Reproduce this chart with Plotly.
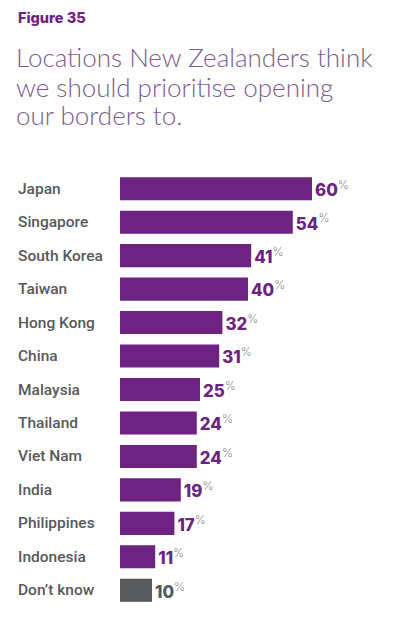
import plotly.graph_objects as go

categories = ["Japan", "Singapore", "South Korea", "Taiwan", "Hong Kong", "China",
              "Malaysia", "Thailand", "Viet Nam", "India", "Philippines", "Indonesia",
              "Don\u2019t know"]
values = [60, 54, 41, 40, 32, 31, 25, 24, 24, 19, 17, 11, 10]

PURPLE = "#6E2382"
GREY = "#58595B"
TITLE_C = "#7D5A8E"

colors = [GREY if c.startswith("Don") else PURPLE for c in categories]
texts = [f"{v}<sup><span style='color:#8a8a8a;font-weight:300'>%</span></sup>" for v in values]

W, H = 396, 632
L, R, T, B = 120, 0, 172, 25
px_per_unit = 3.2
xmax = (W - L - R) / px_per_unit

fig = go.Figure(go.Bar(
    x=values, y=categories, orientation="h",
    marker=dict(color=colors, line=dict(width=0)),
    width=0.69,
    text=texts, textposition="outside", cliponaxis=False,
    textfont=dict(family="Inter", size=20, color=colors, weight=800),
    hoverinfo="skip",
))

fig.update_layout(
    width=W, height=H,
    margin=dict(l=L, r=R, t=T, b=B),
    paper_bgcolor="white", plot_bgcolor="white",
    showlegend=False,
    xaxis=dict(range=[0, xmax], visible=False),
    yaxis=dict(autorange="reversed", showticklabels=False, showgrid=False,
               zeroline=False, showline=False, ticks=""),
    font=dict(family="Roboto"),
)

plot_w = W - L - R
for c in categories:
    fig.add_annotation(
        x=(16 - L) / plot_w, xref="paper", y=c, yref="y",
        text=c, showarrow=False, xanchor="left", yanchor="middle",
        font=dict(family="Roboto", size=15.5, color=GREY, weight=500),
    )

def ypix(py):
    return 1 - (py - T) / (H - T - B)

fig.add_annotation(
    x=(16 - L) / plot_w, xref="paper", y=ypix(17), yref="paper",
    text="Figure 35", showarrow=False, xanchor="left", yanchor="middle",
    font=dict(family="Inter", size=14.5, color=PURPLE, weight=800),
)

title_lines = ["Locations New Zealanders think", "we should prioritise opening",
               "our borders to."]
title_y = [57, 87, 115]
for t, yy in zip(title_lines, title_y):
    fig.add_annotation(
        x=(14 - L) / plot_w, xref="paper", y=ypix(yy), yref="paper",
        text=t, showarrow=False, xanchor="left", yanchor="middle",
        font=dict(family="Lato", size=26, color=TITLE_C, weight=300),
    )

fig.write_html("out.html", config={"displayModeBar": False},
               post_script="document.body.style.margin='0';")
